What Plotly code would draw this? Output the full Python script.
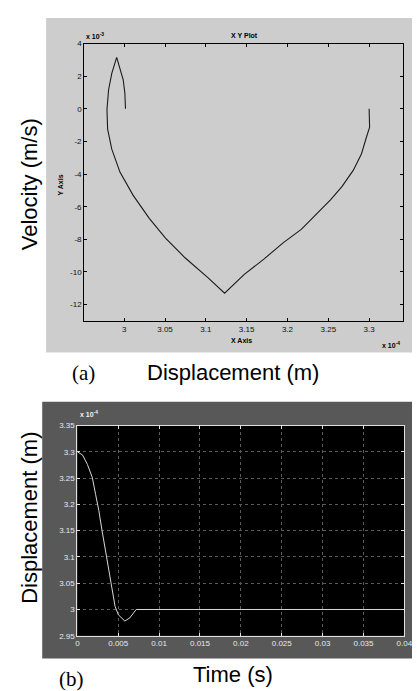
import plotly.graph_objects as go

# ---------------- data ----------------
# Panel (a): phase-plane trajectory (displacement x1e-4 m, velocity x1e-3 m/s)
disp_a = [3.300, 3.3006, 3.2967, 3.2907, 3.2807, 3.2667, 3.2527, 3.2368, 3.2169,
          3.1950, 3.1711, 3.1471, 3.1230, 3.1025, 3.0745, 3.0506, 3.0307,
          3.0108, 2.9948, 2.9848, 2.9797, 2.9789, 2.9809, 2.9848, 2.9908, 2.9988,
          3.0008, 3.0016]
vel_a = [0.0, -1.13, -1.74, -2.75, -3.76, -4.77, -5.58, -6.38, -7.39,
         -8.20, -9.21, -10.15, -11.30, -10.35, -9.13, -7.92, -6.71,
         -5.29, -3.88, -2.47, -1.25, -0.04, 1.17, 2.18, 3.15, 1.78,
         0.97, 0.0]
xticks_a = [3.0, 3.05, 3.1, 3.15, 3.2, 3.25, 3.3]
xticklabels_a = ["3", "3.05", "3.1", "3.15", "3.2", "3.25", "3.3"]
yticks_a = [4, 2, 0, -2, -4, -6, -8, -10, -12]
yticklabels_a = ["4", "2", "0", "-2", "-4", "-6", "-8", "-10", "-12"]

# Panel (b): displacement (x1e-4 m) vs time (s)
time_b = [0.0, 0.00063, 0.00123, 0.00183, 0.00223, 0.00263, 0.00302, 0.00342,
          0.00382, 0.00422, 0.00461, 0.00501, 0.00581, 0.00641, 0.00700, 0.0072, 0.04]
disp_b = [3.300, 3.294, 3.276, 3.251, 3.219, 3.188, 3.150, 3.113,
          3.075, 3.037, 3.006, 2.990, 2.978, 2.984, 2.997, 3.000, 3.000]
xticks_b = [0, 0.005, 0.01, 0.015, 0.02, 0.025, 0.03, 0.035, 0.04]
xticklabels_b = ["0", "0.005", "0.01", "0.015", "0.02", "0.025", "0.03", "0.035", "0.04"]
yticks_b = [2.95, 3.0, 3.05, 3.1, 3.15, 3.2, 3.25, 3.3, 3.35]
yticklabels_b = ["2.95", "3", "3.05", "3.1", "3.15", "3.2", "3.25", "3.3", "3.35"]

W, H = 420, 691
def px(x):
    return x / W
def py(y):
    return 1 - y / H

fig = go.Figure()
fig.add_trace(go.Scatter(x=disp_a, y=vel_a, mode="lines",
                         line=dict(color="#1a1a1a", width=1.1),
                         xaxis="x", yaxis="y", showlegend=False, hoverinfo="skip"))
fig.add_trace(go.Scatter(x=time_b, y=disp_b, mode="lines",
                         line=dict(color="#d8d8d8", width=1),
                         xaxis="x2", yaxis="y2", showlegend=False, hoverinfo="skip"))

tickfont_a = dict(family="Liberation Sans, Arial", size=8, color="#111111")
tickfont_b = dict(family="Liberation Sans, Arial", size=8, color="#e8e8e8")

shapes = [
    # panel (a) gray figure background
    dict(type="rect", xref="paper", yref="paper", x0=px(37), x1=1.0, y0=py(345), y1=py(6),
         fillcolor="#cdcdcd", line=dict(width=0), layer="below"),
    # panel (b) dark figure background
    dict(type="rect", xref="paper", yref="paper", x0=px(33), x1=1.0, y0=py(655), y1=py(395),
         fillcolor="#585858", line=dict(width=0), layer="below"),
]

ann = []
def A(text, x, y, size, color="#000", family="Liberation Sans, Arial", angle=0, xanchor="center"):
    ann.append(dict(text=text, x=px(x), y=py(y), xref="paper", yref="paper", showarrow=False,
                    font=dict(size=size, color=color, family=family), textangle=angle,
                    xanchor=xanchor, yanchor="middle"))

A("<b>X Y Plot</b>", 240, 24, 7)
A("<b>x 10<sup>-3</sup></b>", 76, 24, 7, xanchor="left")
A("<b>x 10<sup>-4</sup></b>", 402, 337, 7, xanchor="right")
A("<b>X Axis</b>", 237, 333, 7)
A("<b>Y Axis</b>", 52, 175, 7, angle=-90)
A("Velocity (m/s)", 20, 175, 22, angle=-90)
A("Displacement (m)", 228, 365, 22)
A("(a)", 75, 366, 21, family="Liberation Serif, Times New Roman")
A("<b>x 10<sup>-4</sup></b>", 70, 407, 7, color="#f0f0f0", xanchor="left")
A("Displacement (m)", 20, 513, 22, angle=-90)
A("Time (s)", 228, 671, 22)
A("(b)", 63, 676, 21, family="Liberation Serif, Times New Roman")

fig.update_layout(
    width=W, height=H, margin=dict(l=0, r=0, t=0, b=0),
    paper_bgcolor="white", plot_bgcolor="white",
    shapes=shapes, annotations=ann,
    xaxis=dict(domain=[px(76), px(403)], anchor="y", range=[2.951, 3.342],
               tickvals=xticks_a, ticktext=xticklabels_a, ticks="inside", ticklen=3,
               tickcolor="#000", showline=True, linecolor="#000", linewidth=1,
               mirror="ticks", showgrid=False, zeroline=False, tickfont=tickfont_a),
    yaxis=dict(domain=[py(313), py(32)], anchor="x", range=[-13.0, 4.0],
               tickvals=yticks_a, ticktext=yticklabels_a, ticks="inside", ticklen=3,
               tickcolor="#000", showline=True, linecolor="#000", linewidth=1,
               mirror="ticks", showgrid=False, zeroline=False, tickfont=tickfont_a),
    xaxis2=dict(domain=[px(69), px(404)], anchor="y2", range=[0, 0.04],
                tickvals=xticks_b, ticktext=xticklabels_b, ticks="inside", ticklen=3,
                tickcolor="#e0e0e0", showline=True, linecolor="#e0e0e0", linewidth=1,
                mirror="ticks", showgrid=True, gridcolor="#5a5a5a", griddash="dot",
                gridwidth=1, zeroline=False, tickfont=tickfont_b),
    yaxis2=dict(domain=[py(632), py(419)], anchor="x2", range=[2.95, 3.35],
                tickvals=yticks_b, ticktext=yticklabels_b, ticks="inside", ticklen=3,
                tickcolor="#e0e0e0", showline=True, linecolor="#e0e0e0", linewidth=1,
                mirror="ticks", showgrid=True, gridcolor="#5a5a5a", griddash="dot",
                gridwidth=1, zeroline=False, tickfont=tickfont_b),
)
# black plot area for panel (b)
fig.add_shape(type="rect", xref="x2 domain", yref="y2 domain", x0=0, x1=1, y0=0, y1=1,
              fillcolor="#000000", line=dict(width=0), layer="below")

fig.write_html("out.html")
